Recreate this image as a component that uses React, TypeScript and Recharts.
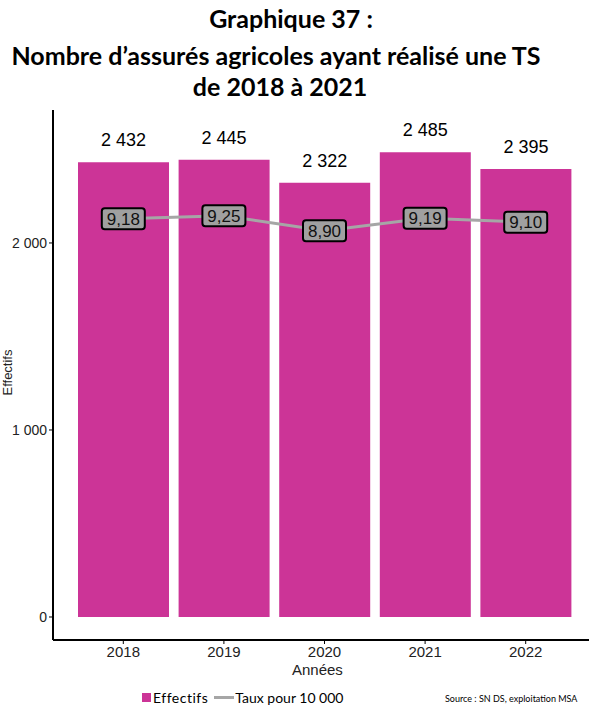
import React from "react";
import { ComposedChart, Bar, Line, XAxis, YAxis, LabelList } from "recharts";

const years = ["2018", "2019", "2020", "2021", "2022"];
const effectifs = [2432, 2445, 2322, 2485, 2395];
const taux = [9.18, 9.25, 8.9, 9.19, 9.1];
const yTicks = [0, 1000, 2000];

const data = years.map((y, i) => ({ year: y, effectifs: effectifs[i], taux: taux[i] }));

const fmtInt = (v: number) => {
  const s = String(Math.round(v));
  return s.replace(/\B(?=(\d{3})+(?!\d))/g, " ");
};
const fmtDec = (v: number) => v.toFixed(2).replace(".", ",");

const PINK = "#CC3497";
const GREY = "#A6A6A6";
const FONT = "'Liberation Sans', Arial, sans-serif";

const RateLabel = (props: any) => {
  const { x, y, value } = props;
  if (x == null || y == null) return null;
  const w = 43;
  const h = 21;
  return (
    <g>
      <rect x={x - w / 2} y={y - h / 2} width={w} height={h} rx={3} ry={3} fill="#A0A0A0" stroke="#000" strokeWidth={2} />
      <text x={x} y={y + 6} textAnchor="middle" fontSize={17} fontFamily={FONT} fill="#111">
        {fmtDec(value)}
      </text>
    </g>
  );
};

const BarTopLabel = (props: any) => {
  const { x, y, width, value } = props;
  return (
    <text x={x + width / 2} y={y - 16} textAnchor="middle" fontSize={18} fontFamily={FONT} fill="#000">
      {fmtInt(value)}
    </text>
  );
};

export default function App() {
  return (
    <div style={{ position: "absolute", left: 0, top: 0, width: 589, height: 706, background: "#fff", overflow: "hidden" }}>
      <div
        style={{
          position: "absolute",
          left: 0,
          top: 1,
          width: 552,
          textAlign: "center",
          fontFamily: "Lato, 'Open Sans', sans-serif",
          fontWeight: 700,
          fontSize: 25,
          lineHeight: "35px",
          color: "#000",
        }}
      >
        <div style={{ paddingLeft: 30 }}>Graphique 37 :</div>
        <div style={{ marginTop: 2 }}>Nombre d’assurés agricoles ayant réalisé une TS</div>
        <div style={{ paddingLeft: 8, marginTop: -4 }}>de 2018 à 2021</div>
      </div>
      <ComposedChart
        width={589}
        height={706}
        data={data}
        margin={{ top: 110, right: 0, bottom: 36, left: 0 }}
        barCategoryGap={5}
      >
        <XAxis
          dataKey="year"
          padding={{ left: 20, right: 13 }}
          axisLine={{ stroke: "#000", strokeWidth: 2 }}
          tickLine={{ stroke: "#000" }}
          tickSize={4}
          height={30}
          tick={{ fontSize: 15, fontFamily: FONT, fill: "#222" }}
        />
        <YAxis
          yAxisId="eff"
          domain={[-123, 2711]}
          ticks={yTicks}
          tickFormatter={fmtInt}
          width={53}
          axisLine={{ stroke: "#000", strokeWidth: 2 }}
          tickLine={{ stroke: "#000" }}
          tickSize={4}
          tick={{ fontSize: 14, fontFamily: FONT, fill: "#222" }}
          allowDataOverflow
        />
        <YAxis yAxisId="rate" hide domain={[-123 / 232, 2711 / 232]} allowDataOverflow />
        <Bar yAxisId="eff" dataKey="effectifs" fill={PINK} isAnimationActive={false}>
          <LabelList dataKey="effectifs" content={<BarTopLabel />} />
        </Bar>
        <Line
          yAxisId="rate"
          dataKey="taux"
          stroke={GREY}
          strokeWidth={3}
          dot={false}
          activeDot={false}
          isAnimationActive={false}
        >
          <LabelList dataKey="taux" content={<RateLabel />} />
        </Line>
      </ComposedChart>
      <div
        style={{
          position: "absolute",
          left: 0,
          top: 365,
          fontFamily: FONT,
          fontSize: 13,
          color: "#222",
          transform: "translate(-23px, 0) rotate(-90deg)",
          transformOrigin: "center",
          width: 60,
          textAlign: "center",
        }}
      >
        Effectifs
      </div>
      <div style={{ position: "absolute", left: 292, top: 661, fontFamily: FONT, fontSize: 15, color: "#222" }}>Années</div>
      <div
        style={{
          position: "absolute",
          left: 142,
          top: 689,
          display: "flex",
          alignItems: "center",
          fontFamily: "Lato, 'Open Sans', sans-serif",
          fontSize: 14,
          color: "#000",
          whiteSpace: "nowrap",
        }}
      >
        <span style={{ display: "inline-block", width: 9, height: 9, background: PINK, marginRight: 2 }} />
        <span style={{ letterSpacing: 0.5 }}>Effectifs</span>
        <span style={{ display: "inline-block", width: 20, height: 3, background: GREY, marginLeft: 6, marginRight: 1 }} />
        <span>Taux pour 10 000</span>
      </div>
      <div
        style={{
          position: "absolute",
          left: 445,
          top: 693,
          fontFamily: "Lato, 'Open Sans', sans-serif",
          fontSize: 9,
          color: "#000",
          whiteSpace: "nowrap",
        }}
      >
        Source : SN DS, exploitation MSA
      </div>
    </div>
  );
}
